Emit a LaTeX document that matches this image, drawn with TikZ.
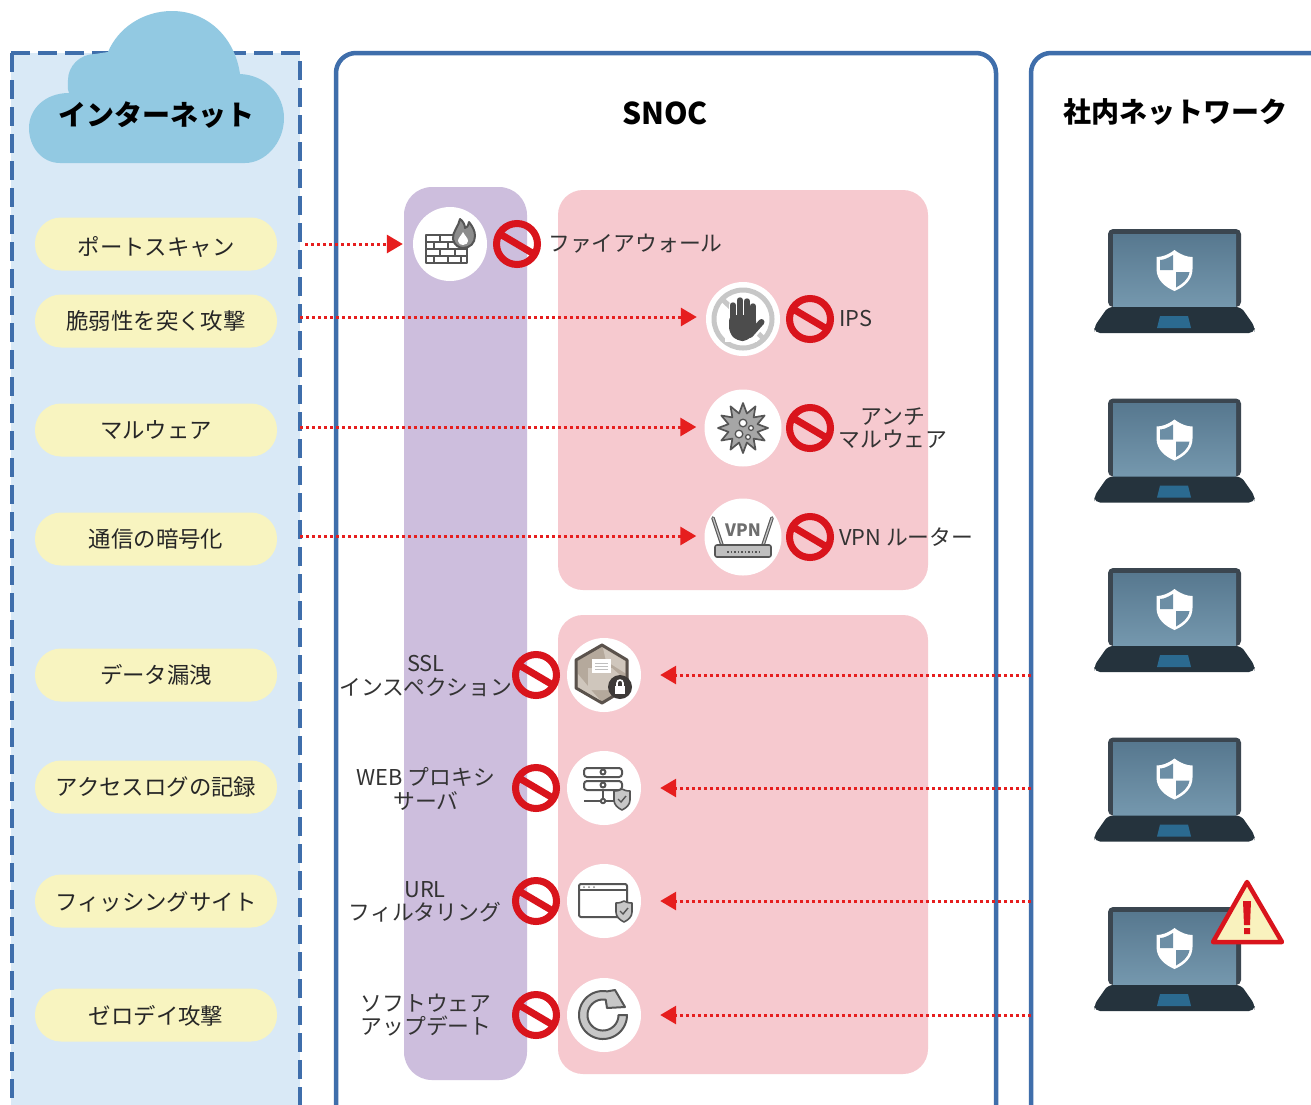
\documentclass[tikz,border=0pt]{standalone}
\usepackage{fontspec}
\setmainfont{Noto Sans CJK JP}
\usetikzlibrary{arrows.meta,calc}
\definecolor{pblue}{HTML}{3F6EAB}
\definecolor{plight}{HTML}{D9E9F6}
\definecolor{cloudc}{HTML}{92C9E2}
\definecolor{pillc}{HTML}{F8F4C0}
\definecolor{purp}{HTML}{CDBEDD}
\definecolor{pinkc}{HTML}{F6C9CF}
\definecolor{redc}{HTML}{D9141C}
\definecolor{arrc}{HTML}{E61E1E}
\definecolor{ic}{HTML}{555555}
\definecolor{ig}{HTML}{8C8C8C}
\definecolor{lapd}{HTML}{3B4650}
\definecolor{lapb}{HTML}{25333D}
\definecolor{lapt}{HTML}{2B6A90}
\definecolor{hexd}{HTML}{5A524C}
\definecolor{hexf}{HTML}{B5A99C}
\definecolor{hexl}{HTML}{CFC6BC}
\definecolor{lockc}{HTML}{3E3A38}
\definecolor{warnf}{HTML}{F9F2BE}
\definecolor{scrt}{HTML}{57788F}
\definecolor{scrb}{HTML}{7598AE}
\definecolor{scrm}{HTML}{6C8EA5}
\newcommand{\droptext}[2]{\rlap{\smash{\raisebox{-#1}{#2}}}\phantom{#2}}
\tikzset{
 panel/.style={draw=pblue,line width=4.5pt,fill=white,rounded corners=20pt},
 pill/.style={fill=pillc,rounded corners=26pt,minimum width=242pt,minimum height=53pt,inner sep=0pt,font=\fontsize{22.4}{26}\selectfont,text=black!85},
 iconbg/.style={circle,fill=white,minimum size=74pt,inner sep=0pt},
 noentry/.style={circle,draw=redc,line width=7pt,minimum size=41pt,inner sep=0pt,
   path picture={\draw[redc,line width=7pt] ([shift={(-22,-13)}]path picture bounding box.center) -- ([shift={(22,13)}]path picture bounding box.center);}},
 lbl/.style={align=center,inner sep=0pt,text=black!80,font=\fontsize{21.8}{23.5}\selectfont},
 head/.style={inner sep=0pt,text=black,font=\bfseries\fontsize{28}{32}\selectfont},
 dotarrow/.style={draw=arrc,line width=3pt,dash pattern=on 3pt off 3pt,-{Triangle[length=16pt,width=18pt,fill=arrc]}},
 iline/.style={draw=ic,line width=2pt,line join=round},
}
\newcommand{\minishield}[2]{%
 \draw[draw=ic,fill=black!22,line width=1.6pt,line join=round] (#1-8,#2-8) .. controls (#1-4,#2-8) and (#1-2,#2-9) .. (#1,#2-10) .. controls (#1+2,#2-9) and (#1+4,#2-8) .. (#1+8,#2-8) -- (#1+8,#2+1) .. controls (#1+8,#2+6) and (#1+4,#2+9) .. (#1,#2+11) .. controls (#1-4,#2+9) and (#1-8,#2+6) .. (#1-8,#2+1) -- cycle;
 \draw[ic,line width=1.4pt] (#1-4,#2) -- (#1-1,#2+3) -- (#1+4,#2-3);}
\newcommand{\laptopicon}[1]{%
 \begin{scope}[shift={(0,#1)}]
  \fill[lapd,rounded corners=5pt] (1108,985) -- (1108,907) -- (1241,907) -- (1241,985) -- cycle;
  \shade[top color=scrt,bottom color=scrb] (1113,912) rectangle (1236,985);
  \fill[lapb,rounded corners=5pt] (1108,985) -- (1241,985) -- (1255,1005) -- (1254,1011) -- (1095,1011) -- (1094,1005) -- cycle;
  \fill[lapt] (1160,994) -- (1188,994) -- (1191,1006) -- (1157,1006) -- cycle;
  \path[fill=white] (1174.5,928) .. controls (1168,933) and (1162,935) .. (1156.5,935) -- (1156.5,947) .. controls (1156.5,958) and (1165,965) .. (1174.5,969) .. controls (1184,965) and (1192.5,958) .. (1192.5,947) -- (1192.5,935) .. controls (1187,935) and (1181,933) .. (1174.5,928) -- cycle;
  \path[fill=scrm] (1173,933) .. controls (1168,936) and (1164,938) .. (1160,938) -- (1160,948) -- (1173,948) -- cycle;
  \path[fill=scrm] (1176,950) -- (1189.5,950) .. controls (1188,958) and (1182,962) .. (1176,965.5) -- cycle;
 \end{scope}}
\begin{document}
\begin{tikzpicture}[x=1pt,y=-1pt]
\clip (0,0) rectangle (1311,1104);
\fill[white] (0,0) rectangle (1311,1104);
% panels
\path[fill=plight] (11,53) rectangle (300,1130);
\draw[draw=pblue,line width=4.5pt,dash pattern=on 19pt off 8pt] (11,53) -- (300,53) -- (300,1130);
\draw[draw=pblue,line width=4.5pt,dash pattern=on 19pt off 8pt] (12,53) -- (12,1130);
\draw[panel] (336,1150) -- (336,53) -- (996,53) -- (996,1150);
\draw[panel] (1031,1150) -- (1031,53) -- (1340,53) -- (1340,1150);
% bands
\path[fill=purp,rounded corners=28pt] (404,187) rectangle (527,1080);
\path[fill=pinkc,rounded corners=25pt] (558,190) rectangle (928,590);
\path[fill=pinkc,rounded corners=25pt] (558,615) rectangle (928,1074);
% cloud
\path[fill=cloudc] (60,163) .. controls (42,163) and (29,147) .. (29,128) .. controls (29,109) and (45,93) .. (69,93) .. controls (67,88) and (68,84) .. (68,80) .. controls (68,66) and (80,54) .. (95,54) -- (108,52) .. controls (118,28) and (143,11) .. (172,11) .. controls (208,11) and (235,38) .. (240,74) .. controls (265,75) and (284,94) .. (284,118) .. controls (284,143) and (265,163) .. (245,163) -- cycle;
\node[head] (tinet) at (156,115) {インターネット};
\node[head,font=\bfseries\fontsize{30}{32}\selectfont] (tsnoc) at (665,113) {SNOC};
\node[head] (tlan) at (1175,112) {社内ネットワーク};
% pills
\node[pill] (p1) at (156,244) {\droptext{2.5pt}{ポートスキャン}};
\node[pill] (p2) at (156,321) {脆弱性を突く攻撃};
\node[pill] (p3) at (156,430) {マルウェア};
\node[pill] (p4) at (156,539) {通信の暗号化};
\node[pill] (p5) at (156,675) {データ漏洩};
\node[pill] (p6) at (156,787) {アクセスログの記録};
\node[pill] (p7) at (156,901) {\droptext{1pt}{フィッシングサイト}};
\node[pill] (p8) at (156,1015) {\droptext{1pt}{ゼロデイ攻撃}};
% icon circles
\node[iconbg] (c1) at (450,244) {};
\node[iconbg] (c2) at (743,319) {};
\node[iconbg,minimum size=77pt] (c3) at (743,428) {};
\node[iconbg,minimum size=77pt] (c4) at (743,537) {};
\node[iconbg] (c5) at (604,675) {};
\node[iconbg] (c6) at (604,788) {};
\node[iconbg] (c7) at (604,901) {};
\node[iconbg] (c8) at (604,1015) {};
% no-entry signs
\node[noentry] (n1) at (517,244) {};
\node[noentry] (n2) at (810,319) {};
\node[noentry] (n3) at (810,428) {};
\node[noentry] (n4) at (810,537) {};
\node[noentry] (n5) at (536,675) {};
\node[noentry] (n6) at (536,788) {};
\node[noentry] (n7) at (536,901) {};
\node[noentry] (n8) at (536,1015) {};
% firewall icon
\draw[iline,fill=white] (426,235) rectangle (467,263);
\foreach \yy in {242,249,256} \draw[iline] (426,\yy) -- (467,\yy);
\foreach \xx in {440,455} \draw[iline] (\xx,235) -- (\xx,242) (\xx,249) -- (\xx,256);
\foreach \xx in {434,448,461} \draw[iline] (\xx,242) -- (\xx,249) (\xx,256) -- (\xx,263);
\draw[iline,fill=ig] (460,219) .. controls (459,226) and (452,232) .. (453,239) .. controls (454,245) and (459,248) .. (463,248) .. controls (470,248) and (475,243) .. (475,236) .. controls (475,230) and (472,226) .. (469,222) .. controls (468,226) and (467,228) .. (465,228) .. controls (465,225) and (463,221) .. (460,219) -- cycle;
\path[fill=white] (463,232) .. controls (461,236) and (458,238) .. (458,241) .. controls (458,244) and (461,245) .. (463,245) .. controls (466,245) and (468,243) .. (468,241) .. controls (468,238) and (465,236) .. (463,232) -- cycle;
% stop hand icon
\draw[draw=black!22,line width=5pt] (743,319) circle[radius=29];
\draw[draw=black!22,line width=5pt] (722,299) -- (764,339);
\foreach \xx/\yy in {733/305,740/300,747/301,753/306} \draw[draw=white,line width=9pt,line cap=round] (\xx,\yy) -- (\xx,325);
\draw[draw=white,line width=10pt,line cap=round] (750,336) -- (761.5,322);
\path[fill=white] (725,312) rectangle (757,342);
\foreach \xx/\yy in {733/305,740/300,747/301,753/306} \draw[draw=ic!90!black,line width=5.4pt,line cap=round] (\xx,\yy) -- (\xx,325);
\draw[draw=ic!90!black,line width=6pt,line cap=round] (750,335) -- (761.5,322);
\path[fill=ic!90!black,rounded corners=6pt] (729,315) -- (756,315) -- (756,330) -- (748,341) -- (737,341) -- (729,333) -- cycle;
% virus icon
\draw[draw=ic,line width=1.7pt,line join=round,fill=black!35] ({743+25*cos(0)},{428+25*sin(0)}) \foreach \a in {0,30,...,330} { -- ({743+25*cos(\a)},{428+25*sin(\a)}) -- ({743+15*cos(\a+15)},{428+15*sin(\a+15)}) } -- cycle;
\draw[draw=ic,fill=white,line width=1.3pt] (743,423) circle[radius=3.8] (739,434) circle[radius=3.8] (751,428) circle[radius=2.4] (748,437) circle[radius=2.4];
% VPN router icon
\draw[draw=ic,line width=3.6pt,line cap=round] (713,518) -- (722,545) (772,518) -- (763,545);
\draw[draw=black!25,line width=1.4pt,line cap=round] (713,518) -- (722,545) (772,518) -- (763,545);
\draw[draw=ic,fill=black!25,line width=1.6pt,rounded corners=2pt] (715,545) rectangle (771,557);
\draw[draw=ic,line width=1.2pt,dash pattern=on 1.5pt off 2pt] (727,552) -- (762,552);
\node[inner sep=0pt,text=ic!85,font=\bfseries\fontsize{17}{18}\selectfont] (vpnt) at (743,530) {VPN};
% SSL icon
\draw[draw=hexd,fill=hexf,line width=3pt,line join=round] (602,645) -- (627,660) -- (627,688) -- (602,703) -- (576,688) -- (576,660) -- cycle;
\path[fill=hexl] (603,648) -- (625,661) -- (625,673) -- (606,661) -- cycle (578,674) -- (592,691) -- (600,700) -- (578,687) -- cycle;
\path[fill=hexl] (588,668) -- (612,668) -- (620,675) -- (620,690) -- (588,690) -- cycle;
\path[fill=white] (592,659) rectangle (611,673);
\draw[draw=black!25,line width=1pt] (595,663) -- (608,663) (595,666) -- (608,666) (595,669) -- (608,669);
\path[fill=lockc] (620,687) circle[radius=12];
\path[fill=white] (615,686) rectangle (625,694);
\draw[draw=white,line width=1.6pt] (617,686) -- (617,683) .. controls (617,679) and (623,679) .. (623,683) -- (623,686);
% server icon
\draw[iline,rounded corners=3pt] (584,768) rectangle (622,777) (584,781) rectangle (622,790);
\draw[iline,fill=white] (603,772) circle[radius=2.5] (603,785) circle[radius=2.5];
\draw[iline] (603,790) -- (603,801) (584,801) -- (615,801);
\draw[iline,fill=white] (603,801) circle[radius=2.2];
\minishield{622}{799}
% url icon
\draw[iline,rounded corners=2pt] (579,884) rectangle (627,917);
\draw[iline] (579,889.5) -- (627,889.5);
\path[fill=ic!70!white] (584,887) circle[radius=1] (589,887) circle[radius=1] (594,887) circle[radius=1];
\minishield{624}{911}
% update icon
\draw[iline,fill=black!22] (627,1015) -- plot[domain=0:280,samples=50] ({603+24*cos(\x)},{1015+24*sin(\x)}) -- (615,990) -- (625,1007) -- (607,1008) -- plot[domain=280:0,samples=50] ({603+15.5*cos(\x)},{1015+15.5*sin(\x)}) -- cycle;
% laptops
\laptopicon{-678}
\laptopicon{-508.5}
\laptopicon{-339}
\laptopicon{-169.5}
\laptopicon{0}
% warning
\draw[draw=redc,fill=warnf,line width=4.5pt,line join=round] (1247,882) -- (1282,942) -- (1213,942) -- cycle;
\path[fill=redc] (1243,901) -- (1251,901) -- (1250,925) -- (1244,925) -- cycle (1244,928) rectangle (1250,934);
% labels
\node[lbl,anchor=west] (l1) at (548,244) {ファイアウォール};
\node[lbl,anchor=west] (l2) at (839,319) {IPS};
\node[lbl] (l3) at (893,428) {アンチ\\マルウェア};
\node[lbl,anchor=west] (l4) at (839,537) {VPN ルーター};
\node[lbl] (l5) at (426,676) {SSL\\インスペクション};
\node[lbl] (l6) at (426,789) {WEB プロキシ\\サーバ};
\node[lbl] (l7) at (425,902) {URL\\フィルタリング};
\node[lbl] (l8) at (426,1015) {ソフトウェア\\アップデート};
% connectors
\coordinate (s1) at (305,244);
\coordinate (s2) at (300,317);
\coordinate (s3) at (300,427);
\coordinate (s4) at (300,536);
\coordinate (s5) at (1031,675);
\coordinate (s6) at (1031,788);
\coordinate (s7) at (1031,901);
\coordinate (s8) at (1031,1015);
\draw[dotarrow,shorten >=10pt] (s1) -- (s1 -| c1.west);
\draw[dotarrow,shorten >=9pt] (s2) -- (s2 -| c2.west);
\draw[dotarrow,shorten >=8pt] (s3) -- (s3 -| c3.west);
\draw[dotarrow,shorten >=8pt] (s4) -- (s4 -| c4.west);
\draw[dotarrow,shorten >=19pt] (s5) -- (c5.east);
\draw[dotarrow,shorten >=19pt] (s6) -- (c6.east);
\draw[dotarrow,shorten >=19pt] (s7) -- (c7.east);
\draw[dotarrow,shorten >=19pt] (s8) -- (c8.east);
\end{tikzpicture}
\end{document}
